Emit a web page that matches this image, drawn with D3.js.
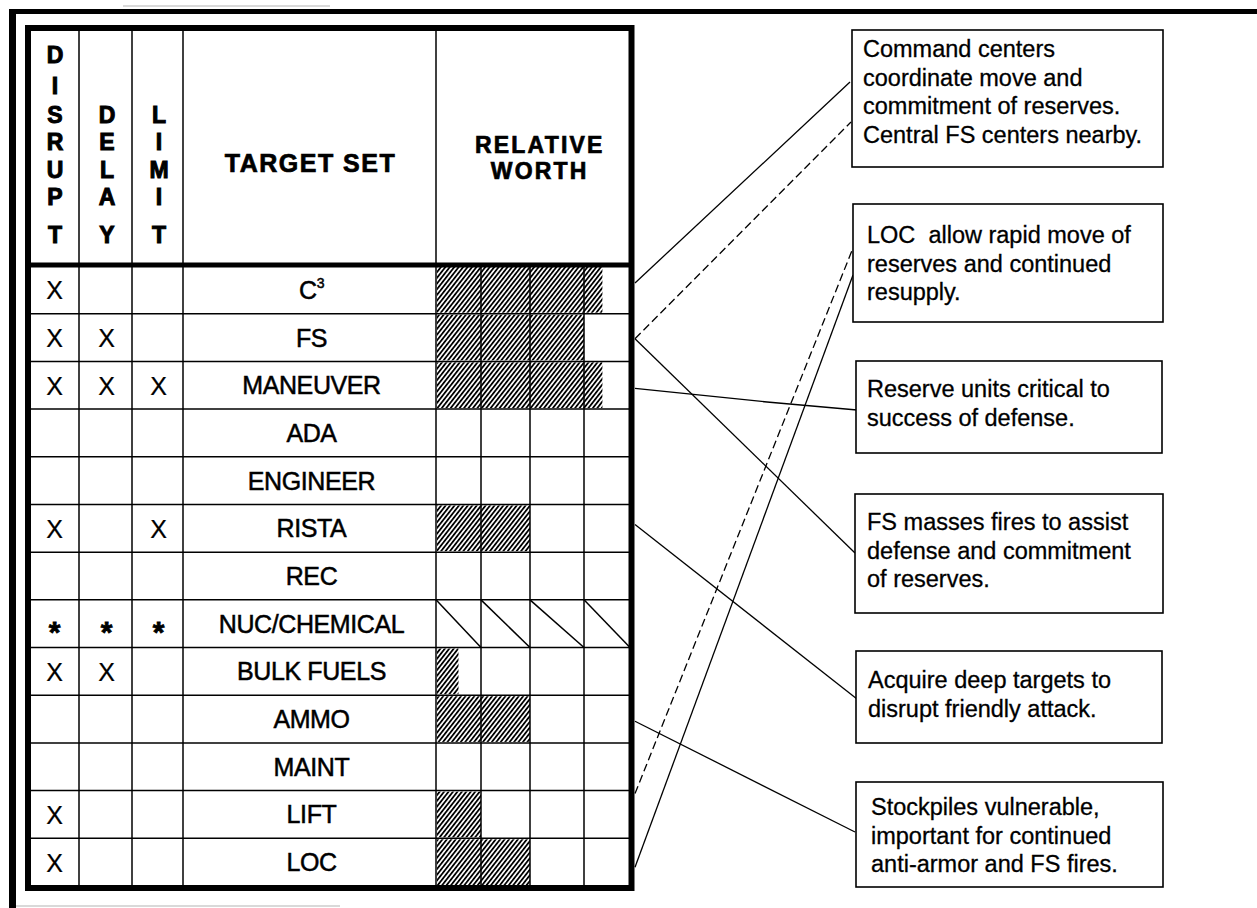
<!DOCTYPE html>
<html><head><meta charset="utf-8">
<script src="https://cdn.jsdelivr.net/npm/d3@7"></script>
<style>
html,body{margin:0;padding:0;background:#fff;}
svg{display:block;}
text{font-family:"Liberation Sans",Arial,Helvetica,sans-serif;fill:#000;}
</style>
</head><body>
<svg id="chart" width="1257" height="908"></svg>
<script>
// ---------------- DATA ----------------
const targets = ["C3","FS","MANEUVER","ADA","ENGINEER","RISTA","REC","NUC/CHEMICAL","BULK FUELS","AMMO","MAINT","LIFT","LOC"];
const disrupt = ["X","X","X","","","X","","*","X","","","X","X"];
const delay   = ["","X","X","","","","","*","X","","","",""];
const limit   = ["","","X","","","X","","*","","","","",""];
const worth   = [3.4,3.0,3.4,0,0,2.0,0,null,0.5,2.0,0,1.0,2.0]; // null = not applicable (diagonal)
const worthTicks = [0,1,2,3,4];
const effectHeaders = ["DISRUPT","DELAY","LIMIT"];
const targetHeader = "TARGET SET";
const worthHeader = ["RELATIVE","WORTH"];
const notes = [
  ["Command centers","coordinate move and","commitment of reserves.","Central FS centers nearby."],
  ["LOC  allow rapid move of","reserves and continued","resupply."],
  ["Reserve units critical to","success of defense."],
  ["FS masses fires to assist","defense and commitment","of reserves."],
  ["Acquire deep targets to","disrupt friendly attack."],
  ["Stockpiles vulnerable,","important for continued","anti-armor and FS fires."]
];
const linkFrom   = ["C3","FS","FS","MANEUVER","RISTA","AMMO","LIFT","LOC"];
const linkTo     = [0,0,3,2,4,5,1,1];
const linkDashed = [false,true,false,false,false,false,true,false];

// ---------------- LAYOUT ----------------
const W = 1257, H = 908;
const colEdges = [28, 79, 132, 183, 436, 631.5];
const tableTop = 28, headBottom = 265, tableBottom = 888;
const letterBaselines = [63, 94, 123, 150, 178, 205, 243];
const boxLayout = [
  {x:852, y:30,  w:311, h:137, tx:11, ty:27},
  {x:853, y:204, w:310, h:118, tx:14, ty:39},
  {x:856, y:361, w:306, h:92,  tx:11, ty:36},
  {x:855, y:494, w:308, h:119, tx:12, ty:36},
  {x:856, y:651, w:306, h:92,  tx:12, ty:37},
  {x:856, y:782, w:307, h:105, tx:15, ty:33}
];
const lineGap = 28.6;
const linkGeom = [
  {dy:17, pts:[[850,82]]},
  {dy:25, pts:[[851,122]]},
  {dy:25, pts:[[855,553]]},
  {dy:27, pts:[[767,402],[857,410]]},
  {dy:20, pts:[[857,699]]},
  {dy:26, pts:[[855,832]]},
  {dy:3,  pts:[[853,248]]},
  {dy:29, pts:[[853,275]]}
];

const svg = d3.select("#chart");
svg.append("rect").attr("width",W).attr("height",H).attr("fill","#fff");

const defs = svg.append("defs");
const pat = defs.append("pattern").attr("id","hatch")
  .attr("patternUnits","userSpaceOnUse").attr("width",3.5).attr("height",3.5)
  .attr("patternTransform","rotate(38)");
pat.append("rect").attr("width",3.5).attr("height",3.5).attr("fill","#fff");
pat.append("line").attr("x1",0.9).attr("y1",-1).attr("x2",0.9).attr("y2",5)
  .attr("stroke","#000").attr("stroke-width",1.8);

const y = d3.scaleBand().domain(targets).range([266, 886]);
const xw = d3.scaleLinear().domain(worthTicks).range([436, 481, 530, 584, 630]);
const colCenter = i => (colEdges[i] + colEdges[i+1]) / 2;

// faint scan artefact lines
svg.append("line").attr("x1",123).attr("x2",330).attr("y1",6).attr("y2",6).attr("stroke","#ccc").attr("stroke-width",1.5);
svg.append("line").attr("x1",16).attr("x2",340).attr("y1",906).attr("y2",906).attr("stroke","#ccc").attr("stroke-width",1.5);

// outer frame
svg.append("line").attr("x1",9).attr("x2",W).attr("y1",11.5).attr("y2",11.5).attr("stroke","#000").attr("stroke-width",5);
svg.append("line").attr("x1",12.5).attr("x2",12.5).attr("y1",9).attr("y2",H).attr("stroke","#000").attr("stroke-width",7);

const rows = targets.map((t,i)=>({t, i, v:worth[i], d:disrupt[i], de:delay[i], l:limit[i]}));

// hatched bars
svg.append("g").selectAll("rect").data(rows.filter(r=>r.v>0)).join("rect")
  .attr("x", xw(0)+1)
  .attr("y", r=>y(r.t)+1)
  .attr("width", r=>xw(r.v)-xw(0)-1)
  .attr("height", y.bandwidth()-2)
  .attr("fill","url(#hatch)");

// not-applicable diagonals
const gNa = svg.append("g");
rows.filter(r=>r.v===null).forEach(r=>{
  gNa.selectAll(null).data(worthTicks.slice(0,-1)).join("line")
    .attr("x1",k=>xw(k)).attr("y1",y(r.t))
    .attr("x2",k=>xw(k+1)).attr("y2",y(r.t)+y.bandwidth())
    .attr("stroke","#000").attr("stroke-width",1.5);
});

// grid
const grid = svg.append("g").attr("stroke","#000").attr("stroke-width",1.5);
grid.selectAll("line.h").data(targets.slice(1)).join("line")
  .attr("x1",colEdges[0]).attr("x2",colEdges[5])
  .attr("y1",t=>y(t)).attr("y2",t=>y(t));
grid.selectAll("line.v").data(colEdges.slice(1,-1)).join("line")
  .attr("x1",d=>d).attr("x2",d=>d).attr("y1",tableTop).attr("y2",tableBottom);
grid.selectAll("line.w").data(worthTicks.slice(1,-1)).join("line")
  .attr("x1",k=>xw(k)).attr("x2",k=>xw(k)).attr("y1",headBottom).attr("y2",tableBottom);

// table borders
svg.append("rect").attr("x",colEdges[0]).attr("y",tableTop)
  .attr("width",colEdges[5]-colEdges[0]).attr("height",tableBottom-tableTop)
  .attr("fill","none").attr("stroke","#000").attr("stroke-width",6);
svg.append("line").attr("x1",colEdges[0]).attr("x2",colEdges[5]).attr("y1",headBottom).attr("y2",headBottom)
  .attr("stroke","#000").attr("stroke-width",5);

// stacked headers
effectHeaders.forEach((h,ci)=>{
  const letters = h.split("");
  const off = letterBaselines.length - letters.length;
  svg.append("g").selectAll("text").data(letters).join("text")
    .attr("x", colCenter(ci)+1.5)
    .attr("y", (d,i)=>letterBaselines[i+off])
    .attr("text-anchor","middle")
    .attr("font-size",23).attr("font-weight","bold")
    .attr("stroke","#000").attr("stroke-width",1)
    .text(d=>d);
});
svg.append("text").attr("x",colCenter(3)+1).attr("y",172).attr("text-anchor","middle")
  .attr("font-size",25).attr("font-weight","bold").attr("letter-spacing",1.5)
  .attr("stroke","#000").attr("stroke-width",0.7).text(targetHeader);
svg.append("g").selectAll("text").data(worthHeader).join("text")
  .attr("x",colCenter(4)+6).attr("y",(d,i)=>153+i*25.5).attr("text-anchor","middle")
  .attr("font-size",23).attr("font-weight","bold").attr("letter-spacing",2.2)
  .attr("stroke","#000").attr("stroke-width",0.7).text(d=>d);

// marks in effect columns
const markG = svg.append("g");
[["d",0],["de",1],["l",2]].forEach(([key,ci])=>{
  markG.selectAll(null).data(rows.filter(r=>r[key]!=="")).join("text")
    .attr("x", colCenter(ci)+1)
    .attr("y", r=> r[key]==="*" ? y(r.t)+y.bandwidth()/2+18 : y(r.t)+y.bandwidth()/2+9.5)
    .attr("text-anchor","middle")
    .attr("font-size", r=> r[key]==="*" ? 30 : 25)
    .attr("font-weight", r=> r[key]==="*" ? "bold" : "normal")
    .attr("stroke","#000").attr("stroke-width", r=> r[key]==="*" ? 0.8 : 0.2)
    .text(r=>r[key]);
});

// target labels
const lab = svg.append("g").selectAll("text").data(rows).join("text")
  .attr("x", colCenter(3)+2)
  .attr("y", r=>y(r.t)+y.bandwidth()/2+9)
  .attr("text-anchor","middle")
  .attr("font-size",25)
  .attr("stroke","#000").attr("stroke-width",0.5)
  .attr("letter-spacing",-0.4);
lab.each(function(r){
  const s = d3.select(this);
  if (r.t === "C3") {
    s.append("tspan").text("C");
    s.append("tspan").attr("font-size",14).attr("dy",-11).text("3");
  } else {
    s.text(r.t);
  }
});

// leader lines
const lineGen = d3.line();
svg.append("g").selectAll("path").data(linkFrom.map((f,i)=>({f, to:linkTo[i], dashed:linkDashed[i], g:linkGeom[i]})))
  .join("path")
  .attr("d", d=>lineGen([[635, y(d.f)+d.g.dy], ...d.g.pts]))
  .attr("fill","none").attr("stroke","#000").attr("stroke-width",1.3)
  .attr("stroke-dasharray", d=>d.dashed ? "8,4" : null);

// callout boxes
const boxes = svg.append("g").selectAll("g").data(notes.map((n,i)=>({lines:n, b:boxLayout[i]}))).join("g");
boxes.append("rect")
  .attr("x",d=>d.b.x).attr("y",d=>d.b.y).attr("width",d=>d.b.w).attr("height",d=>d.b.h)
  .attr("fill","#fff").attr("stroke","#000").attr("stroke-width",1.6);
boxes.each(function(d){
  d3.select(this).selectAll("text").data(d.lines).join("text")
    .attr("x", d.b.x + d.b.tx)
    .attr("y", (l,i)=> d.b.y + d.b.ty + i*lineGap)
    .attr("font-size",23.5)
    .attr("stroke","#000").attr("stroke-width",0.3)
    .attr("xml:space","preserve")
    .style("white-space","pre")
    .text(l=>l);
});
</script>
</body></html>
